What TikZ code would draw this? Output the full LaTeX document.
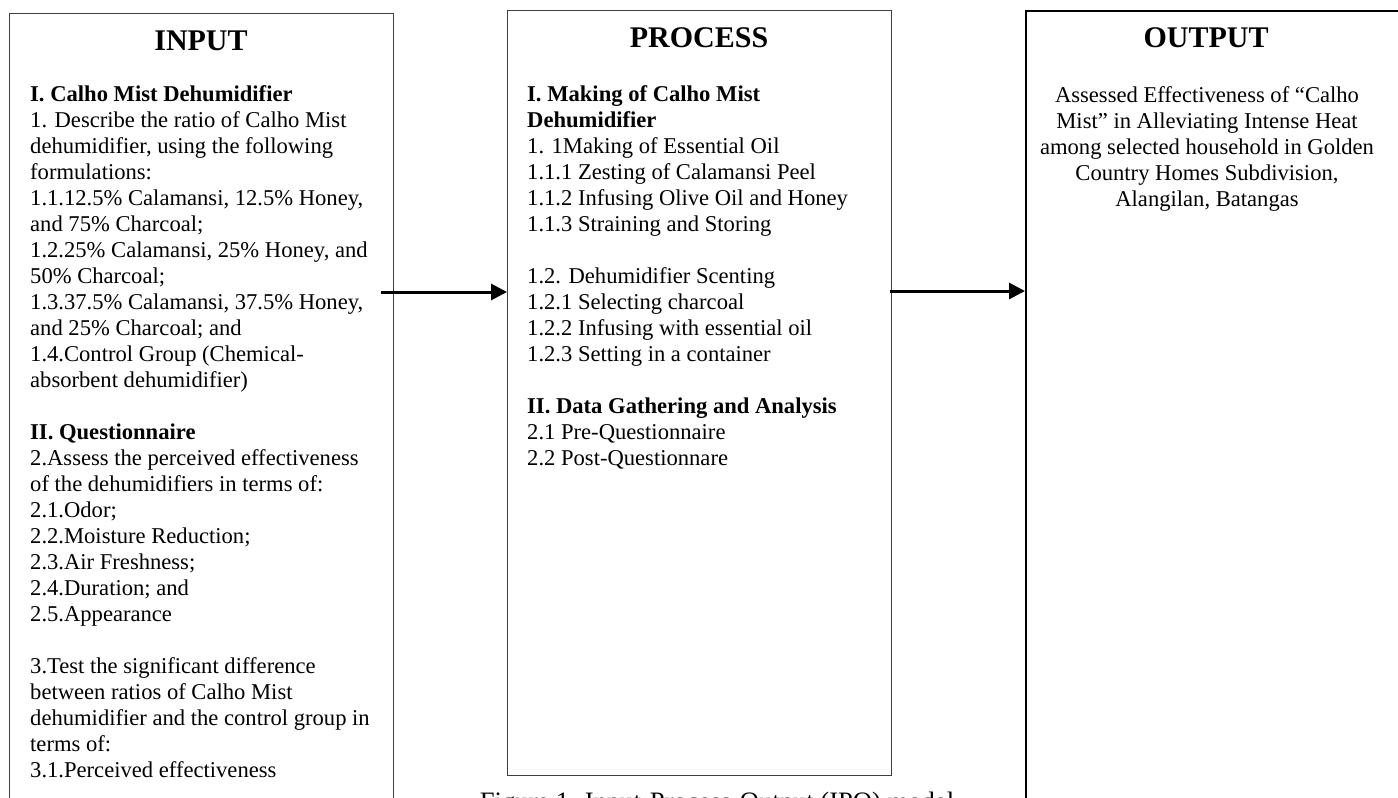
\documentclass[tikz,border=0pt]{standalone}
\usepackage{fontspec}
\setmainfont{Liberation Serif}
\usetikzlibrary{arrows.meta}
\tikzset{
  boxframe/.style={draw=black!75, line width=1.3pt, inner sep=0pt, minimum width=384pt, anchor=north west},
  title/.style={font=\bfseries\fontsize{30}{34}\selectfont, anchor=base, inner sep=0pt},
  body/.style={font=\fontsize{22.6}{26}\selectfont, inner sep=0pt},
  flow/.style={line width=3pt, -{Triangle[length=16pt,width=16pt]}},
}
\begin{document}
\begin{tikzpicture}[x=1pt,y=-1pt]
\useasboundingbox (0,0) rectangle (1398,798);
\clip (0,0) rectangle (1398,798);
% boxes
\node[boxframe, minimum height=900pt] (inbox) at (9,13) {};
\node[boxframe, minimum height=765pt] (procbox) at (507,10) {};
\node[boxframe, draw=black, line width=1.8pt, minimum height=900pt] (outbox) at (1025,10) {};
% titles
\node[title] (intitle) at (201,50) {INPUT};
\node[title] (proctitle) at (699,47) {PROCESS};
\node[title] (outtitle) at (1206,47) {OUTPUT};
% texts
\node[body, align=left, anchor=north west] (intext) at (30,82.8) {\strut\textbf{I. Calho Mist Dehumidifier}\\
1. Describe the ratio of Calho Mist\\
dehumidifier, using the following\\
formulations:\\
1.1.12.5\% Calamansi, 12.5\% Honey,\\
and 75\% Charcoal;\\
1.2.25\% Calamansi, 25\% Honey, and\\
50\% Charcoal;\\
1.3.37.5\% Calamansi, 37.5\% Honey,\\
and 25\% Charcoal; and\\
1.4.Control Group (Chemical-\\
absorbent dehumidifier)\\[26pt]
\textbf{II. Questionnaire}\\
2.Assess the perceived effectiveness\\
of the dehumidifiers in terms of:\\
2.1.Odor;\\
2.2.Moisture Reduction;\\
2.3.Air Freshness;\\
2.4.Duration; and\\
2.5.Appearance\\[26pt]
3.Test the significant difference\\
between ratios of Calho Mist\\
dehumidifier and the control group in\\
terms of:\\
3.1.Perceived effectiveness};
\node[body, align=left, anchor=north west] (proctext) at (527,82.8) {\strut\textbf{I. Making of Calho Mist}\\
\textbf{Dehumidifier}\\
1. 1Making of Essential Oil\\
1.1.1 Zesting of Calamansi Peel\\
1.1.2 Infusing Olive Oil and Honey\\
1.1.3 Straining and Storing\\[26pt]
1.2. Dehumidifier Scenting\\
1.2.1 Selecting charcoal\\
1.2.2 Infusing with essential oil\\
1.2.3 Setting in a container\\[26pt]
\textbf{II. Data Gathering and Analysis}\\
2.1 Pre-Questionnaire\\
2.2 Post-Questionnare};
\node[body, align=center, anchor=north] (outtext) at (1207,83.8) {\strut Assessed Effectiveness of “Calho\\
Mist” in Alleviating Intense Heat\\
among selected household in Golden\\
Country Homes Subdivision,\\
Alangilan, Batangas};
% caption
\node[font=\fontsize{26.6}{30}\selectfont, anchor=base, inner sep=0pt] (caption) at (717,810) {Figure 1. Input-Process-Output (IPO) model};
% arrows
\coordinate (a1) at (381,292);
\coordinate (a2) at (890,291);
\draw[flow] (a1) -- (procbox.west |- a1);
\draw[flow] (a2) -- (outbox.west |- a2);
\end{tikzpicture}
\end{document}
